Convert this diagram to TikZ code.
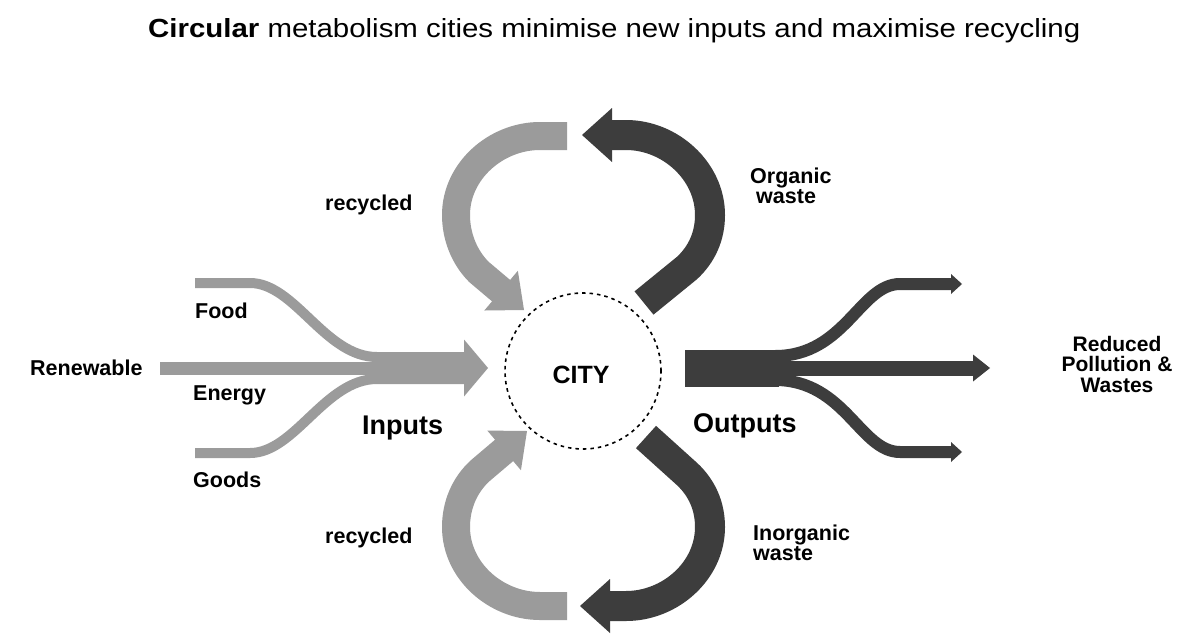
\documentclass[tikz,border=0pt]{standalone}
\usepackage{fontspec}
\usepackage{graphicx}
\usetikzlibrary{calc}
\newfontfamily\lsans{Liberation Sans}
\definecolor{lightg}{HTML}{9B9B9B}
\definecolor{darkg}{HTML}{3D3D3D}
\newcommand\labfont{\lsans\bfseries\fontsize{21.5}{21.5}\selectfont}
\newcommand\bigfont{\lsans\bfseries\fontsize{27}{27}\selectfont}
% arrow head: #1 colour, #2 from coordinate, #3 tip coordinate, #4 length, #5 half width
\newcommand\headtri[5]{%
  \coordinate (hb) at ($(#3)!#4!(#2)$);
  \fill[#1] (#3) -- ($(hb)!#5!90:(#3)$) -- ($(hb)!#5!-90:(#3)$) -- cycle;}
\begin{document}
\begin{tikzpicture}[x=1pt,y=-1pt,
  lab/.style={font=\labfont, inner sep=0pt, anchor=base west, text=black},
  big/.style={font=\bigfont, inner sep=0pt, anchor=base west, text=black},
  lband/.style={draw=lightg, line cap=butt, line join=round},
  dband/.style={draw=darkg, line cap=butt, line join=round}]
\useasboundingbox (0,0) rectangle (1189,635);
\fill[white] (0,0) rectangle (1189,635);

% title
\node[inner sep=0pt, anchor=base west] (title) at (148,37)
  {\resizebox{932pt}{19pt}{\lsans\fontsize{20}{20}\selectfont\textbf{Circular} metabolism cities minimise new inputs and maximise recycling}};

% city
\node[circle, draw=black, dashed, dash pattern=on 3.5pt off 4pt, line width=1.6pt,
      minimum size=156pt, inner sep=0pt] (city) at (583,371) {};
\node[inner sep=0pt, anchor=base, font=\lsans\bfseries\fontsize{25}{25}\selectfont] (citylab) at (581,383) {CITY};

% ---------- inputs ----------
\coordinate (inA) at (380,368);
\coordinate (inT) at (488,368);
\draw[lband, line width=13pt] (160,368) -- (465,368);
\draw[lband, line width=10pt] (195,283) -- (250,283) .. controls (295,283) and (325,357) .. (377,357) -- (465,357);
\draw[lband, line width=10pt] (195,453) -- (250,453) .. controls (295,453) and (325,379) .. (377,379) -- (465,379);
\headtri{lightg}{inA}{inT}{24pt}{28.5pt}

% ---------- outputs ----------
\fill[darkg] (685,350) rectangle (779,387);
\coordinate (omA) at (800,368);
\coordinate (omT) at (990,368);
\draw[dband, line width=15pt] (777,368) -- (975,368);
\headtri{darkg}{omA}{omT}{17pt}{13.5pt}
\coordinate (ouA) at (900,284);
\coordinate (ouT) at (962,284);
\draw[dband, line width=12pt] (775,356) .. controls (845,356) and (860,284) .. (900,284) -- (952,284);
\headtri{darkg}{ouA}{ouT}{11pt}{10pt}
\coordinate (olA) at (900,452);
\coordinate (olT) at (962,452);
\draw[dband, line width=12pt] (775,380) .. controls (845,380) and (860,452) .. (900,452) -- (952,452);
\headtri{darkg}{olA}{olT}{11pt}{10pt}

% ---------- top loop ----------
\coordinate (tlA) at (479,272);
\coordinate (tlT) at (524,310);
\draw[lband, line width=28pt] (567,136) -- (540,136) .. controls (496,136) and (456,171) .. (456,215)
   .. controls (456,236) and (464,257) .. (tlA) -- ($(tlT)!29pt!(tlA)$);
\headtri{lightg}{tlA}{tlT}{30pt}{26pt}

\coordinate (trA) at (626,135);
\coordinate (trT) at (582,135);
\draw[dband, line width=30pt] (644,303) -- (687,268) .. controls (702,254) and (710,236) .. (710,215)
   .. controls (710,171) and (670,135) .. (trA) -- ($(trT)!29pt!(trA)$);
\headtri{darkg}{trA}{trT}{30pt}{27pt}

% ---------- bottom loop ----------
\coordinate (blA) at (481,470);
\coordinate (blT) at (527,431);
\draw[lband, line width=28pt] (567,606) -- (540,606) .. controls (496,606) and (456,571) .. (456,527)
   .. controls (456,506) and (464,485) .. (blA) -- ($(blT)!29pt!(blA)$);
\headtri{lightg}{blA}{blT}{30pt}{26pt}

\coordinate (brA) at (626,606);
\coordinate (brT) at (580,606);
\draw[dband, line width=30pt] (646,437) -- (687,474) .. controls (702,488) and (710,506) .. (710,527)
   .. controls (710,571) and (670,606) .. (brA) -- ($(brT)!29pt!(brA)$);
\headtri{darkg}{brA}{brT}{30pt}{27pt}

% ---------- labels ----------
\node[lab] (food) at (195,318) {Food};
\node[lab] (energy) at (193,400) {Energy};
\node[lab] (goods) at (193,487) {Goods};
\node[lab] (renew) at (30,375) {Renewable};
\node[big] (inputs) at (362,434) {Inputs};
\node[big] (outputs) at (693,432) {Outputs};
\node[lab] (rec1) at (325,210) {recycled};
\node[lab] (rec2) at (325,543) {recycled};
\node[lab] (org1) at (750,183) {Organic};
\node[lab] (org2) at (756,203) {waste};
\node[lab] (inorg1) at (753,540) {Inorganic};
\node[lab] (inorg2) at (753,560) {waste};
\node[inner sep=0pt, anchor=center, align=center, text=black,
      font=\lsans\bfseries\fontsize{21}{20.5}\selectfont] (reduced) at (1117,364)
      {Reduced\\Pollution \&\\Wastes};
\end{tikzpicture}
\end{document}
